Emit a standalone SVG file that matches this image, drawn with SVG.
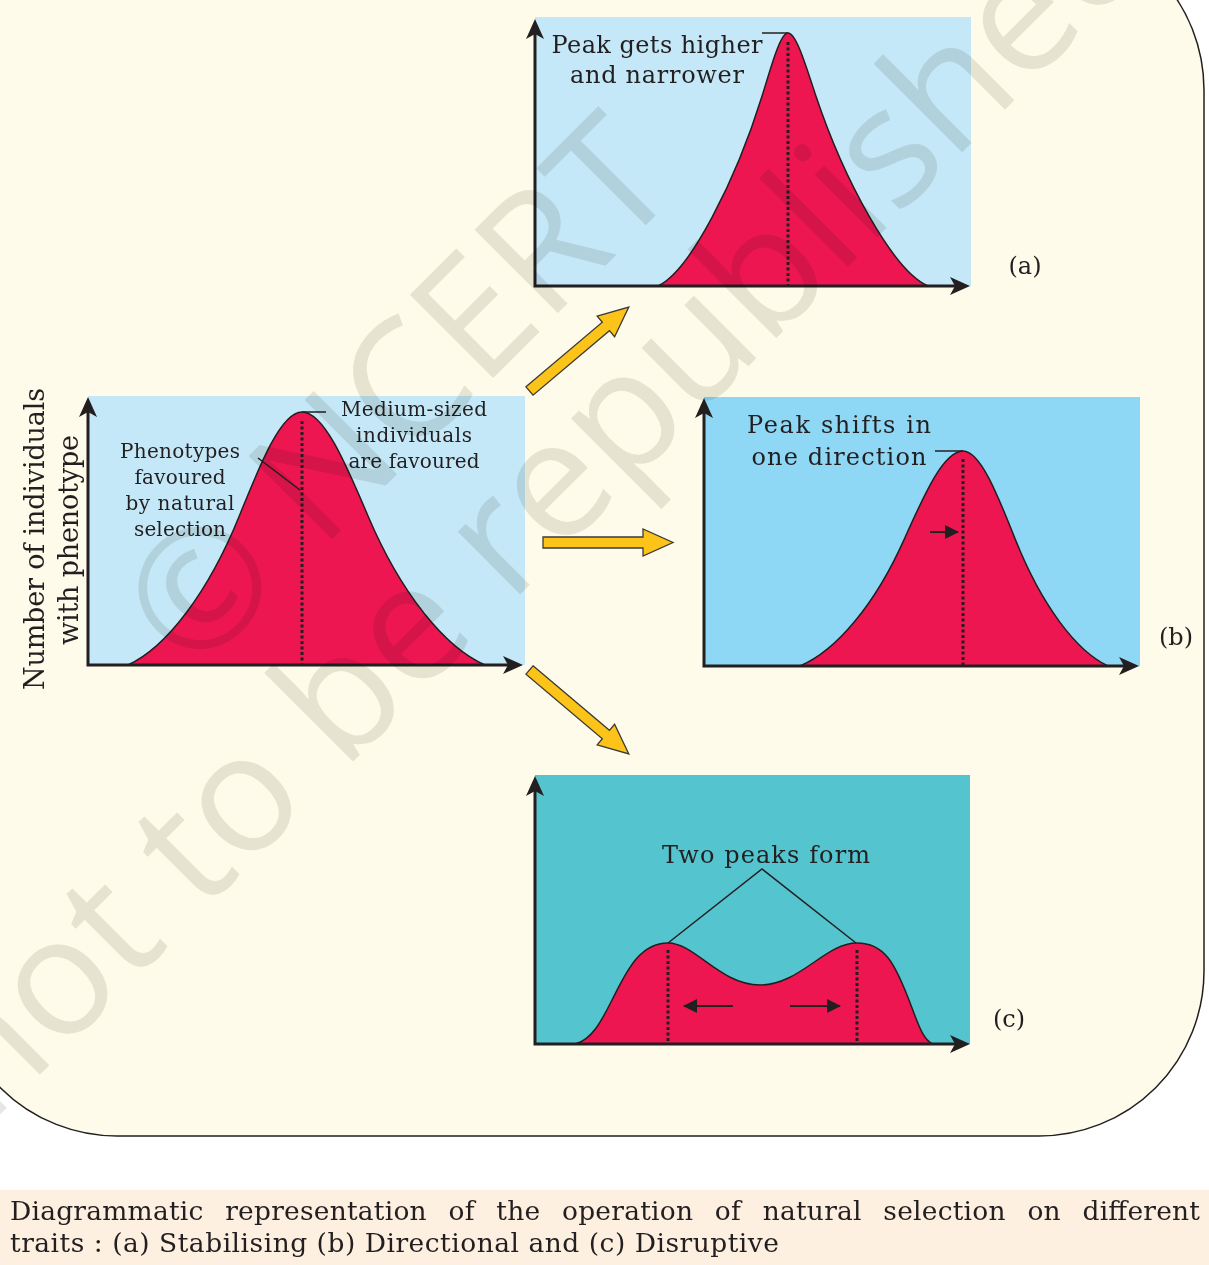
<svg xmlns="http://www.w3.org/2000/svg" width="1209" height="1265" viewBox="0 0 1209 1265">
<style>
.t{font-family:"DejaVu Serif","Liberation Serif",serif;fill:#231f20;text-anchor:middle}
.cap{font-family:"DejaVu Serif","Liberation Serif",serif;fill:#231f20;font-size:26.5px}
.ax{fill:none;stroke:#231f20;stroke-width:3;stroke-linejoin:miter;marker-start:url(#ah);marker-end:url(#ah)}
.bell{fill:#ed1651;stroke:#231f20;stroke-width:1.5}
.dot{stroke:#231f20;stroke-width:3;stroke-dasharray:3 2.5}
.ld{stroke:#231f20;stroke-width:1.5;fill:none}
.sa{stroke:#231f20;stroke-width:2;marker-end:url(#sh)}
.ya{fill:#fcc418;stroke:#3a3a3a;stroke-width:1.3}
</style>
<defs>
<marker id="ah" viewBox="0 0 20 18" refX="6" refY="9" markerWidth="20" markerHeight="18" markerUnits="userSpaceOnUse" orient="auto-start-reverse"><path d="M0,0 L20,9 L0,18 L5,9 Z" fill="#231f20"/></marker>
<marker id="sh" viewBox="0 0 14 14" refX="13" refY="7" markerWidth="14" markerHeight="14" markerUnits="userSpaceOnUse" orient="auto"><path d="M0,0 L14,7 L0,14 Z" fill="#231f20"/></marker>
<path id="yarrow" d="M0,-5.5 H100 V-13.5 L130,0 L100,13.5 V5.5 H0 Z"/>
</defs>
<rect width="1209" height="1265" fill="#ffffff"/>
<rect x="-48" y="-75" width="1252" height="1211" rx="165" fill="#fffbea" stroke="#231f20" stroke-width="1.5"/>
<rect x="0" y="1190" width="1209" height="75" fill="#fdf0e1"/>

<g id="source">
<rect x="88" y="396" width="437" height="269" fill="#c5e8f8"/>
<path class="bell" d="M128,665 C166.3,647.3 208,593.1 239.4,515.7 C260.2,464.1 281.1,412 302,412 C324,412 345.9,464.1 367.9,515.7 C400.8,593.1 444.7,647.3 485,665 Z"/>
<line class="dot" x1="302" y1="421" x2="302" y2="664"/>
<path class="ld" d="M302,412 H326 M258,458 L300,490"/>
<text class="t" font-size="20" x="414" y="416" textLength="146">Medium-sized</text>
<text class="t" font-size="20" x="414" y="442" textLength="116">individuals</text>
<text class="t" font-size="20" x="414" y="468" textLength="131">are favoured</text>
<text class="t" font-size="20" x="180" y="458" textLength="120">Phenotypes</text>
<text class="t" font-size="20" x="180" y="484" textLength="91">favoured</text>
<text class="t" font-size="20" x="180" y="510" textLength="109">by natural</text>
<text class="t" font-size="20" x="180" y="536" textLength="92">selection</text>
<path class="ax" d="M88,411 V665 H509"/>
<text class="t" font-size="27" transform="translate(44,539) rotate(-90)" textLength="302">Number of individuals</text>
<text class="t" font-size="27" transform="translate(78,540) rotate(-90)" textLength="210">with phenotype</text>
</g>

<g id="stabilising">
<rect x="535" y="17" width="436" height="269" fill="#c5e8f8"/>
<path class="bell" d="M658,286 C690.5,270.8 736,179.7 762,96.25 C771.1,66.9 780.2,33 788,33 C796.4,33 806.2,66.9 816,96.25 C844,179.7 893,270.8 928,286 Z"/>
<line class="dot" x1="788" y1="42" x2="788" y2="285"/>
<path class="ld" d="M762,33 H788"/>
<text class="t" font-size="24" x="657" y="53" textLength="211">Peak gets higher</text>
<text class="t" font-size="24" x="657" y="83" textLength="174">and narrower</text>
<path class="ax" d="M535,33 V286 H956"/>
<text class="t" font-size="24" x="1025" y="274">(a)</text>
</g>

<g id="directional">
<rect x="704" y="397" width="436" height="269" fill="#8ed8f5"/>
<path class="bell" d="M800,666 C835.9,651 875,604.9 904.3,539.1 C923.9,495.3 943.4,451 963,451 C980.4,451 997.8,495.3 1015.2,539.1 C1041.3,604.9 1076.1,651 1108,666 Z"/>
<line class="dot" x1="963" y1="459" x2="963" y2="665"/>
<path class="ld" d="M935,451 H963"/>
<line class="sa" x1="930" y1="532" x2="958" y2="532"/>
<text class="t" font-size="24" x="839" y="433" textLength="184">Peak shifts in</text>
<text class="t" font-size="24" x="839" y="465" textLength="175">one direction</text>
<path class="ax" d="M704,412 V666 H1125"/>
<text class="t" font-size="24" x="1176" y="645">(b)</text>
</g>

<g id="disruptive">
<rect x="535" y="775" width="435" height="269" fill="#54c4cf"/>
<path class="bell" d="M575,1044 C592,1040 602,1020 612,1000 C625,975 638,943 668,943 C695,943 720,985 760,985 C800,985 825,943 857,943 C885,943 895,965 907,995 C917,1020 922,1040 933,1044 Z"/>
<line class="dot" x1="668" y1="950" x2="668" y2="1043"/>
<line class="dot" x1="857" y1="950" x2="857" y2="1043"/>
<path class="ld" d="M668,943 L762,869 L856,943"/>
<line class="sa" x1="733" y1="1006" x2="684" y2="1006"/>
<line class="sa" x1="790" y1="1006" x2="840" y2="1006"/>
<text class="t" font-size="24" x="766" y="863" textLength="208">Two peaks form</text>
<path class="ax" d="M535,790 V1044 H956"/>
<text class="t" font-size="24" x="1009" y="1027">(c)</text>
</g>

<g id="connectors">
<use href="#yarrow" class="ya" transform="translate(529.5,391) rotate(-40.2)"/>
<use href="#yarrow" class="ya" transform="translate(543,542.5)"/>
<use href="#yarrow" class="ya" transform="translate(529.5,670) rotate(40.2)"/>
</g>

<g id="caption">
<text class="cap" x="10" y="1220" textLength="1190" lengthAdjust="spacing" word-spacing="13">Diagrammatic representation of the operation of natural selection on different</text>
<text class="cap" x="10" y="1252" textLength="769" lengthAdjust="spacing">traits : (a) Stabilising (b) Directional and (c) Disruptive</text>
</g>

<g id="watermark" style="mix-blend-mode:multiply" fill="#e6e7e4" font-family="'Open Sans',sans-serif" font-size="165" transform="rotate(-45)">
<text x="-343" y="616">© NCERT</text>
<text x="-806" y="788">not to be republished</text>
</g>
</svg>
